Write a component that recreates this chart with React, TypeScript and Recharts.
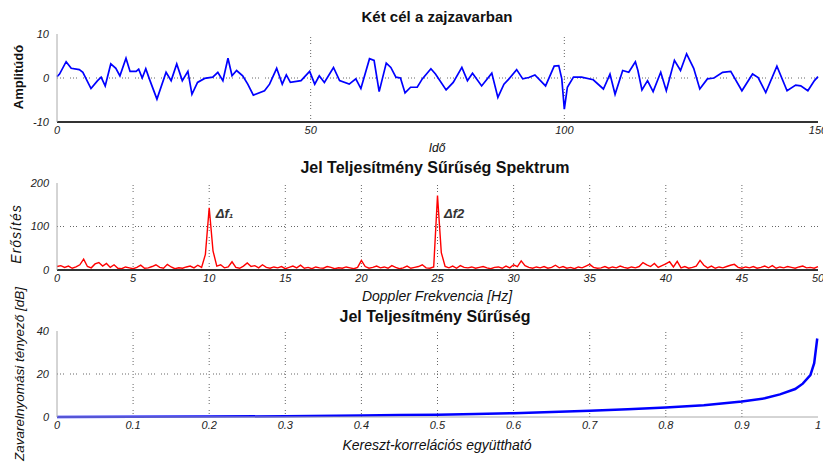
import React from 'react';
import { LineChart, Line, XAxis, YAxis, ReferenceDot, ReferenceLine } from 'recharts';

// ---------- DATA ----------
// Plot 1: time signal (time, amplitude)
const timeSignal: [number, number][] = [
  [0, 0.3], [0.5, 0.9], [1.8, 3.7], [2.8, 2.2], [4.4, 1.9], [5.1, 1.3], [6.7, -2.4], [8.0, -0.6],
  [8.7, 0.2], [9.5, -1.8], [10.6, 3.2], [11.6, 2.2], [12.4, 0.5], [13.6, 4.5], [14.4, 1.5], [15.6, 1.5],
  [16.1, 2.0], [16.8, 0], [17.5, 2.1], [18.2, -0.2], [19.7, -4.8], [21.5, 1.3], [22.5, -0.6], [23.6, 3.2],
  [24.7, -0.6], [25.8, 1.5], [26.6, -3.7], [27.7, -1.0], [29.1, -0.1], [30.7, 0.2], [31.7, 1.3], [32.7, -0.6],
  [33.7, 4.5], [34.5, 0.5], [35.4, 1.7], [36.6, 0.5], [37.6, -1.4], [38.7, -3.9], [40.9, -2.9], [41.9, -1.4],
  [43.3, 2.2], [44.4, -1.4], [45.2, 0.7], [46.0, -1.0], [48.1, -0.6], [49.8, 1.5], [50.8, -1.4], [51.7, 0.5],
  [52.7, -1.0], [54.5, 2.4], [55.7, -0.6], [57.6, -1.4], [58.9, -0.2], [59.9, -2.4], [61.6, 4.4], [62.5, 4.0],
  [63.5, -3.1], [64.9, 3.4], [65.8, 2.4], [66.8, 0.2], [67.7, 0.0], [68.6, -3.4], [69.7, -2.1], [71.0, -2.1],
  [72.0, -0.2], [73.7, 2.1], [74.6, 0.9], [76.7, -2.7], [78.1, -1.0], [79.8, 2.4], [80.9, -0.6], [81.9, 1.1],
  [83.7, -1.8], [85.7, 1.1], [86.9, -4.4], [88.1, -1.4], [89.0, -0.3], [90.6, 1.9], [91.8, -0.2], [93.0, 0.1],
  [94.2, 0.7], [96.3, -1.8], [98.0, 2.7], [98.9, 2.8], [99.5, -0.2], [100.0, -7.1], [100.6, -2.1], [101.8, 0.2],
  [103.4, 0.2], [105.7, -0.4], [107.7, -2.5], [109.0, 0.9], [110.0, -3.7], [111.5, 1.7], [112.7, 1.3], [114.0, 3.7],
  [114.5, 1.7], [115.3, -2.7], [116.4, -0.6], [117.5, -3.1], [119.0, 1.3], [120.1, -2.9], [121.7, 4.0], [122.9, 1.7],
  [124.1, 5.5], [125.5, 2.2], [126.7, -2.5], [128.2, -0.2], [129.5, 0.0], [131.2, 1.3], [132.8, 1.5], [135.0, -2.9],
  [137.1, 0.9], [138.2, 0.1], [139.7, -3.3], [141.9, 2.7], [143.9, -2.9], [145.6, -1.6], [146.6, -1.8], [148.0, -2.9],
  [149.3, -0.6], [150, 0.3],
];
const timeTicks = [0, 50, 100, 150];
const ampTicks = [-10, 0, 10];

// Plot 2: power spectrum, one value every 0.25 Hz from 0 to 50 Hz
const freqStepHz = 0.25;
const spectrumPower = [
  8, 10, 6, 9, 4, 7, 12, 25, 8, 5, 14, 17, 9, 15, 6, 12, 4, 3, 7, 5,
  3, 6, 11, 4, 5, 8, 12, 6, 4, 13, 7, 3, 5, 4, 7, 9, 5, 11, 6, 36,
  143, 44, 9, 12, 5, 7, 19, 6, 4, 9, 16, 8, 10, 5, 12, 6, 4, 7, 5, 8,
  3, 6, 9, 5, 11, 4, 6, 3, 7, 5, 4, 8, 6, 3, 5, 4, 7, 5, 3, 6,
  22, 8, 4, 6, 9, 5, 7, 4, 10, 6, 3, 5, 9, 4, 6, 8, 12, 5, 4, 7,
  171, 40, 8, 5, 9, 4, 10, 6, 5, 7, 4, 6, 8, 5, 3, 6, 7, 4, 9, 5,
  12, 8, 21, 10, 6, 4, 7, 5, 8, 4, 6, 11, 5, 8, 4, 6, 3, 7, 5, 9,
  13, 6, 4, 5, 8, 4, 7, 5, 9, 6, 4, 7, 5, 8, 17, 12, 8, 15, 6, 10,
  14, 19, 7, 20, 5, 8, 4, 6, 9, 22, 11, 5, 9, 4, 7, 5, 8, 11, 13, 6,
  4, 7, 5, 8, 4, 6, 9, 5, 10, 4, 7, 5, 8, 6, 4, 7, 9, 5, 6, 4,
  8,
];
const freqTicks = [0, 5, 10, 15, 20, 25, 30, 35, 40, 45, 50];
const powerTicks = [0, 100, 200];
const peakLabels = [
  { f: 10.3, p: 131, text: 'Δf₁' },
  { f: 25.3, p: 131, text: 'Δf2' },
];

// Plot 3: suppression factor vs cross-correlation coefficient
const correlationCurve: [number, number][] = [
  [0, 0], [0.1, 0.1], [0.2, 0.2], [0.3, 0.35], [0.4, 0.7], [0.45, 0.9], [0.5, 1.1], [0.55, 1.4],
  [0.6, 1.8], [0.65, 2.3], [0.7, 2.9], [0.75, 3.6], [0.8, 4.4], [0.85, 5.5], [0.9, 7.2], [0.93, 8.7],
  [0.95, 10.5], [0.97, 13], [0.98, 15.5], [0.99, 19.5], [0.995, 25], [0.999, 36.5],
];
const corrTicks = [0, 0.1, 0.2, 0.3, 0.4, 0.5, 0.6, 0.7, 0.8, 0.9, 1];
const gainTicks = [0, 20, 40];

// ---------- STYLE ----------
const FONT = '"Liberation Sans", Arial, sans-serif';
const tickStyle = { fontFamily: FONT, fontSize: 11, fontStyle: 'italic' as const, fill: '#222' };
const gridDash = '1 2 1 2 1 6';
const gridColor = '#666';
const W = 823;

const signalData = timeSignal.map(([t, v]) => ({ t, v }));
const spectrumData = spectrumPower.map((p, i) => ({ f: i * freqStepHz, p }));
const corrData = correlationCurve.map(([c, g]) => ({ c, g }));

const inner = (ticks: number[]) => ticks.slice(1, -1);

function gridLines(xTicks: number[], yTicks: number[]) {
  return [
    ...inner(xTicks).map((x) => (
      <ReferenceLine key={'gx' + x} x={x} stroke={gridColor} strokeWidth={1} strokeDasharray={gridDash} />
    )),
    ...inner(yTicks).map((y) => (
      <ReferenceLine key={'gy' + y} y={y} stroke={gridColor} strokeWidth={1} strokeDasharray={gridDash} />
    )),
  ];
}

export default function App() {
  return (
    <div style={{ position: 'absolute', left: 0, top: 0, width: W, height: 464, background: '#fff' }}>
      {/* Plot 1 */}
      <div style={{ position: 'absolute', left: 0, top: 0 }}>
        <LineChart width={W} height={150} data={signalData} margin={{ top: 34, right: 5, bottom: 8, left: 0 }}>
          <XAxis dataKey="t" type="number" domain={[0, 150]} ticks={timeTicks} interval={0}
            tick={tickStyle} tickLine={false} tickSize={2} height={20}
            axisLine={{ stroke: '#333', strokeWidth: 2 }} />
          <XAxis xAxisId="top" orientation="top" dataKey="t" type="number" domain={[0, 150]}
            tick={false} tickLine={false} height={0} axisLine={{ stroke: '#333', strokeWidth: 2 }} />
          <YAxis type="number" domain={[-10, 10]} ticks={ampTicks} interval={0} width={57}
            tick={tickStyle} tickLine={false} axisLine={{ stroke: '#aaa' }} />
          <YAxis yAxisId="right" orientation="right" type="number" domain={[-10, 10]} width={0}
            tick={false} tickLine={false} axisLine={{ stroke: '#aaa' }} />
          {gridLines(timeTicks, ampTicks)}
          <Line dataKey="v" type="linear" stroke="#0000ff" strokeWidth={1.7} dot={false} isAnimationActive={false} />
        </LineChart>
      </div>

      {/* Plot 2 */}
      <div style={{ position: 'absolute', left: 0, top: 150 }}>
        <LineChart width={W} height={150} data={spectrumData} margin={{ top: 33, right: 5, bottom: 10, left: 0 }}>
          <XAxis dataKey="f" type="number" domain={[0, 50]} ticks={freqTicks} interval={0}
            tick={tickStyle} tickLine={false} tickSize={2} height={20}
            axisLine={{ stroke: '#333', strokeWidth: 2 }} />
          <XAxis xAxisId="top" orientation="top" dataKey="f" type="number" domain={[0, 50]}
            tick={false} tickLine={false} height={0} axisLine={{ stroke: '#333', strokeWidth: 2 }} />
          <YAxis type="number" domain={[0, 200]} ticks={powerTicks} interval={0} width={57}
            tick={tickStyle} tickLine={false} axisLine={{ stroke: '#aaa' }} />
          <YAxis yAxisId="right" orientation="right" type="number" domain={[0, 200]} width={0}
            tick={false} tickLine={false} axisLine={{ stroke: '#aaa' }} />
          {gridLines(freqTicks, powerTicks)}
          <Line dataKey="p" type="linear" stroke="#ff0000" strokeWidth={1.4} dot={false} isAnimationActive={false} />
          {peakLabels.map((pk) => (
            <ReferenceDot key={pk.text} x={pk.f} y={pk.p} r={0} stroke="none" fill="none"
              label={{ value: pk.text, position: 'right', offset: 2, fontFamily: FONT, fontSize: 13, fontStyle: 'italic', fontWeight: 'bold', fill: '#333' }} />
          ))}
        </LineChart>
      </div>

      {/* Plot 3 */}
      <div style={{ position: 'absolute', left: 0, top: 300 }}>
        <LineChart width={W} height={164} data={corrData} margin={{ top: 31, right: 5, bottom: 27, left: 0 }}>
          <XAxis dataKey="c" type="number" domain={[0, 1]} ticks={corrTicks} interval={0}
            tick={tickStyle} tickLine={false} tickSize={2} height={20}
            axisLine={{ stroke: '#aaa', strokeWidth: 1 }} />
          <XAxis xAxisId="top" orientation="top" dataKey="c" type="number" domain={[0, 1]}
            tick={false} tickLine={false} height={0} axisLine={{ stroke: '#aaa', strokeWidth: 1.5 }} />
          <YAxis type="number" domain={[0, 40]} ticks={gainTicks} interval={0} width={57}
            tick={tickStyle} tickLine={false} axisLine={{ stroke: '#aaa' }} />
          <YAxis yAxisId="right" orientation="right" type="number" domain={[0, 40]} width={0}
            tick={false} tickLine={false} axisLine={{ stroke: '#aaa' }} />
          {gridLines(corrTicks, gainTicks)}
          <Line dataKey="g" type="linear" stroke="#0000ff" strokeWidth={2.5} dot={false} isAnimationActive={false} />
        </LineChart>
      </div>

      {/* Titles and axis labels */}
      <svg width={W} height={464} style={{ position: 'absolute', left: 0, top: 0, pointerEvents: 'none' }}>
        <g fontFamily={FONT} fill="#111">
          <text x={437} y={22} textAnchor="middle" fontSize={15} fontWeight="bold">Két cél a zajzavarban</text>
          <text x={435} y={173} textAnchor="middle" fontSize={16} fontWeight="bold">Jel Teljesítmény Sűrűség Spektrum</text>
          <text x={435} y={322} textAnchor="middle" fontSize={16} fontWeight="bold">Jel Teljesítmény Sűrűség</text>

          <text x={437} y={152} textAnchor="middle" fontSize={12} fontStyle="italic">Idő</text>
          <text x={437} y={301} textAnchor="middle" fontSize={14} fontStyle="italic">Doppler Frekvencia [Hz]</text>
          <text x={437} y={450} textAnchor="middle" fontSize={14} fontStyle="italic">Kereszt-korrelációs együttható</text>

          <text transform="translate(23,77) rotate(-90)" textAnchor="middle" fontSize={13} fontWeight="bold">Amplitúdó</text>
          <text transform="translate(21,234) rotate(-90)" textAnchor="middle" fontSize={14} fontStyle="italic" letterSpacing={1}>Erősítés</text>
          <text transform="translate(24,374) rotate(-90)" textAnchor="middle" fontSize={13.5} fontStyle="italic">Zavarelnyomási tényező [dB]</text>
        </g>
      </svg>
    </div>
  );
}
